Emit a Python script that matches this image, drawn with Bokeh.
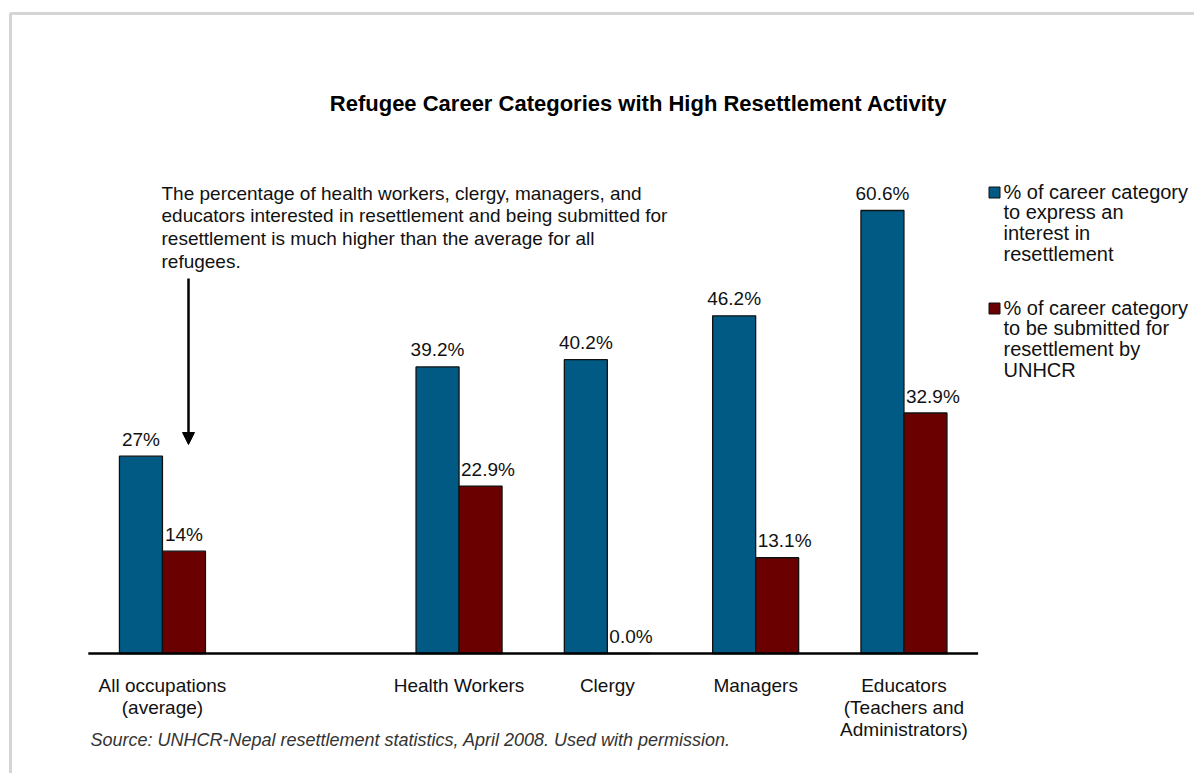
import numpy as np
from bokeh.plotting import figure
from bokeh.models import Range1d, ColumnDataSource, Arrow, NormalHead
from bokeh.core.properties import value
from bokeh.embed import file_html
from bokeh.resources import INLINE

# ---------------- data ----------------
categories = ["All occupations\n(average)", "", "Health Workers", "Clergy",
              "Managers", "Educators\n(Teachers and\nAdministrators)"]
interest = [27.0, np.nan, 39.2, 40.2, 46.2, 60.6]
submitted = [14.0, np.nan, 22.9, 0.0, 13.1, 32.9]
interest_labels = ["27%", "", "39.2%", "40.2%", "46.2%", "60.6%"]
submitted_labels = ["14%", "", "22.9%", "0.0%", "13.1%", "32.9%"]
series_names = ["% of career category\nto express an\ninterest in\nresettlement",
                "% of career category\nto be submitted for\nresettlement by\nUNHCR"]
title_text = "Refugee Career Categories with High Resettlement Activity"
note_text = ("The percentage of health workers, clergy, managers, and\n"
             "educators interested in resettlement and being submitted for\n"
             "resettlement is much higher than the average for all\n"
             "refugees.")
source_text = "Source: UNHCR-Nepal resettlement statistics, April 2008. Used with permission."

BLUE = "#005A84"
RED = "#6B0000"
FONT = value("Liberation Sans")
LABEL_PX = 19

# ---------------- geometry helpers (picture pixel -> data) ----------------
SX, X0 = 148.3, 87.8   # px per category slot, x of slot 0
PY, Y0 = 7.31, 653.0   # px per percent, y of 0 %
TS = 7.0               # text vertical correction (px)
def dx(X):
    return (X - X0) / SX
def dy(Y):
    return (Y0 - Y) / PY
def dyt(Y):
    return dy(Y - TS)

def text_width_px(s, size):
    em = {".": 0.278, "%": 0.889}
    return sum(em.get(ch, 0.556) for ch in s) * size

W, H = 1194, 773
p = figure(width=W, height=H, output_backend="svg", toolbar_location=None,
           x_range=Range1d(dx(0), dx(W)), y_range=Range1d(dy(H), dy(0)),
           x_axis_location=None, y_axis_location=None, title=None, min_border=0)
p.xgrid.visible = False
p.ygrid.visible = False
p.outline_line_color = None
p.background_fill_color = "white"
p.border_fill_color = "white"

# outer light-grey frame
p.line(x=[dx(10), dx(10), dx(1300)], y=[dy(900), dy(13), dy(13)],
       line_color="#d4d4d4", line_width=3)

# ---------------- bars ----------------
n = len(categories)
xc = np.arange(n) + 0.5
bw = 0.29
xb = xc - bw / 2
xr = xc + bw / 2
# red-bar labels are nudged right so they do not overlap the blue bar
gap = 2.0 / SX
red_lab_x = []
for i in range(n):
    half = text_width_px(submitted_labels[i], LABEL_PX) / 2 / SX
    left_limit = xc[i] + gap
    red_lab_x.append(max(xr[i], left_limit + half))

src = ColumnDataSource(dict(
    xb=xb, xr=xr, xrl=red_lab_x,
    interest=interest, submitted=submitted,
    il=interest_labels, sl=submitted_labels,
    iy=np.array(interest) + (10 + TS) / PY, sy=np.array(submitted) + (10 + TS) / PY,
))
p.vbar(x="xb", top="interest", bottom=0, width=bw, source=src,
       fill_color=BLUE, line_color="#111111", line_width=1.3)
p.vbar(x="xr", top="submitted", bottom=0, width=bw, source=src,
       fill_color=RED, line_color="#111111", line_width=1.3)

# baseline
p.segment(x0=[0], y0=[0], x1=[n], y1=[0], line_color="black", line_width=2.5)

# value labels
p.text(x="xb", y="iy", text="il", source=src, text_font=FONT,
       text_font_size=f"{LABEL_PX}px", text_align="center", text_baseline="alphabetic",
       text_color="#111111")
p.text(x="xrl", y="sy", text="sl", source=src, text_font=FONT,
       text_font_size=f"{LABEL_PX}px", text_align="center", text_baseline="alphabetic",
       text_color="#111111")

# category labels (one row per line)
cx, cy, ct = [], [], []
for i, c in enumerate(categories):
    for j, line in enumerate(c.split("\n")):
        if line:
            cx.append(xc[i]); cy.append(dyt(692 + 22 * j)); ct.append(line)
p.text(x=cx, y=cy, text=ct, text_font=FONT, text_font_size="19px",
       text_align="center", text_baseline="alphabetic", text_color="#111111")

# title
p.text(x=[dx(638)], y=[dyt(110)], text=[title_text], text_font=FONT,
       text_font_size="22px", text_font_style="bold", text_align="center",
       text_baseline="alphabetic", text_color="black")

# annotation note
lines = note_text.split("\n")
p.text(x=[dx(161)] * len(lines), y=[dyt(199.5 + 22.9 * j) for j in range(len(lines))],
       text=lines, text_font=FONT, text_font_size="19px", text_align="left",
       text_baseline="alphabetic", text_color="#111111")
p.add_layout(Arrow(end=NormalHead(size=12, fill_color="black", line_color="black"),
                   x_start=dx(188), y_start=dy(278), x_end=dx(188), y_end=dy(444),
                   line_color="black", line_width=2.5))

# legend
for k, (name, col) in enumerate(zip(series_names, [BLUE, RED])):
    base = 198 + 116 * k
    p.scatter(x=[dx(994)], y=[dy(base - 6)], marker="square", size=11,
              fill_color=col, line_color="#111111", line_width=1)
    ls = name.split("\n")
    p.text(x=[dx(1003)] * len(ls), y=[dyt(base + 20.7 * j) for j in range(len(ls))],
           text=ls, text_font=FONT, text_font_size="20px", text_align="left",
           text_baseline="alphabetic", text_color="#111111")

# source
p.text(x=[dx(90)], y=[dyt(746)], text=[source_text], text_font=FONT,
       text_font_size="18px", text_font_style="italic", text_align="left",
       text_baseline="alphabetic", text_color="#333333")

open("out.html", "w").write(file_html(p, INLINE))
